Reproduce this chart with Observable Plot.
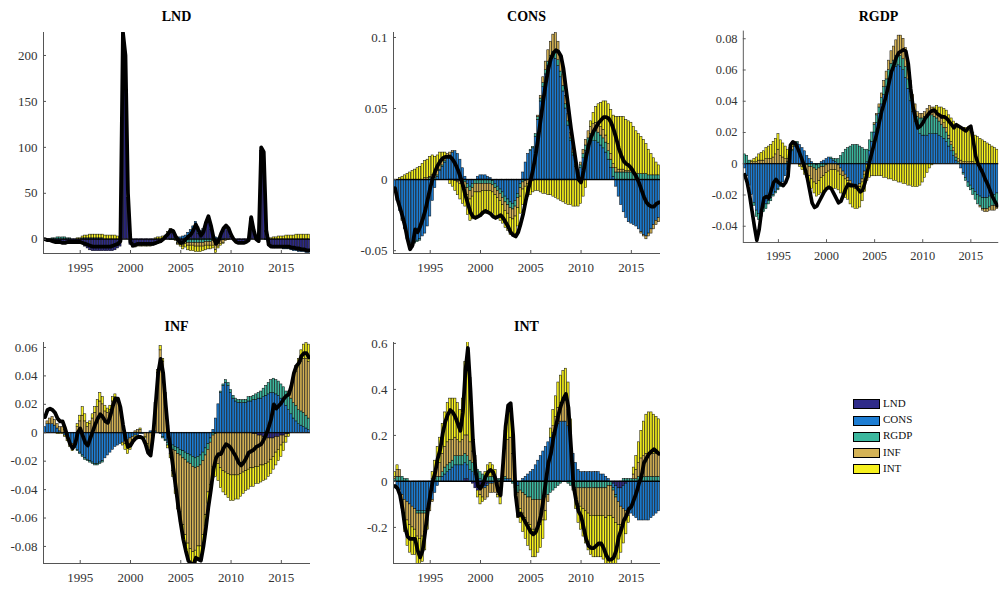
<!DOCTYPE html>
<html><head><meta charset="utf-8">
<script src="https://cdn.jsdelivr.net/npm/d3@7"></script>
<script src="https://cdn.jsdelivr.net/npm/@observablehq/plot@0.6"></script>
<style>
html,body{margin:0;padding:0;background:#fff;overflow:hidden;}
#root{position:relative;width:1004px;height:589px;overflow:hidden;font-family:"Liberation Serif","Times New Roman",serif;background:#fff;}
.ttl{position:absolute;font-weight:bold;font-size:14px;line-height:16px;transform:translateX(-50%);color:#000;white-space:nowrap;}
.pl{position:absolute;}
.pl svg text{font-family:"Liberation Serif","Times New Roman",serif;}
.leg{position:absolute;left:853px;font-size:11px;line-height:12px;color:#111;}
.leg span.sw{display:inline-block;width:25px;height:8px;border:1px solid #000;vertical-align:middle;margin-right:3px;}
</style></head><body><div id="root"></div>
<script>
// ---- data ----
const seriesNames = ["LND","CONS","RGDP","INF","INT"];
const firstQuarter = 1991.5;   // 1991Q3 (plotted as year + (q-1)/4)
const nQuarters = 106;         // through 2017Q4
const xTicks = [1995, 2000, 2005, 2010, 2015];

// LND panel (units of 1)
const lndTotal = [0,-1,
-1,-2,-3,-3, -3,-4,-4,-3, -3,-3,-3,-3, -3,-4,-5,-6, -7,-8,-8,-8, -8,-8,-8,-8, -8,-7,-6,-5,
-2,225,200,50, -3,-7,-6,-5, -5,-5,-5,-5, -5,-5,-4,-3, -2,0,3,6, 10,9,3,-1, -4,-3,0,3,
5,10,16,10, 4,8,18,25, 15,2,-5,-2, 6,12,15,12, 5,0,-3,-4, -4,-4,-3,-1, 24,10,0,-2,
100,95,10,-6, -8,-8,-8,-8, -8,-8,-8,-8, -9,-9,-10,-10, -11,-11,-12,-12];
const lndLND = [0,-1,
-1,-2,-2,-3, -3,-3,-3,-3, -3,-3,-3,-3, -4,-5,-8,-10, -12,-13,-13,-13, -13,-13,-13,-13, -13,-13,-12,-10,
-8,220,195,45, -6,-8,-8,-7, -7,-7,-7,-7, -7,-7,-6,-5, -4,-2,0,4, 8,7,2,-2, -3,-3,0,2,
4,8,12,6, 2,5,12,18, 10,0,-4,-2, 3,8,11,9, 3,0,-3,-3, -3,-3,-2,0, 22,8,0,-2,
96,90,8,-6, -8,-9,-9,-9, -9,-10,-10,-10, -11,-12,-12,-13, -13,-13,-14,-14];
const lndCONS = [0,0,
0,-1,-1,-1, -1,-1,-1,-1, -1,0,0,0, 0,1,1,1, 1,1,1,1, 1,1,0,0, 0,0,0,0,
0,0,0,0, 0,0,0,0, 0,0,0,0, 0,0,0,0, 0,0,1,1, 1,1,1,2, 2,3,4,5,
6,6,7,7, 7,6,6,5, 4,3,2,1, 1,1,1,0, 0,0,0,0, 0,0,0,0, 0,0,0,0,
0,0,-1,-1, -1,-1,-1,-1, -1,-1,-1,-1, -1,-1,-1,-1, -1,-1,-1,-1];
const lndRGDP = [0,0,
0,1,1,2, 2,2,2,1, 1,0,0,0, 0,0,0,0, 0,0,0,0, 0,0,0,0, 0,0,0,0,
0,0,0,0, 0,0,0,0, 0,0,0,0, 0,0,0,0, 0,0,0,0, -1,-1,-1,-2, -2,-3,-3,-4,
-4,-4,-4,-4, -4,-4,-3,-3, -3,-2,-2,-1, -1,-1,0,0, 0,0,0,0, 0,0,0,0, 0,0,0,0,
0,0,0,0, 0,0,0,0, 0,0,0,0, 0,0,0,0, 0,0,0,0];
const lndINF = [0,0,
0,0,0,0, 0,0,0,0, 0,0,0,0, 0,0,0,0, 0,0,0,0, 0,0,0,0, 0,0,0,0,
0,0,0,0, 0,0,0,0, 0,0,0,0, 0,0,0,0, 0,0,0,0, 0,0,-1,-1, -1,-2,-2,-3,
-3,-3,-4,-4, -4,-4,-4,-4, -4,-5,-6,-5, -4,-3,-2,-1, 0,0,0,0, 0,0,0,0, 0,0,0,0,
0,0,0,0, 0,0,0,0, 0,0,0,0, 0,0,0,0, 0,0,0,0];
const lndINT = [0,0,
0,0,0,0, 0,0,0,0, 0,0,0,1, 1,2,3,3, 4,4,4,4, 4,4,4,4, 4,4,4,3,
3,0,0,0, 0,-1,-1,-1, -1,-1,-1,-1, -1,0,1,2, 2,3,3,3, 2,1,0,-1, -2,-3,-4,-5,
-6,-6,-6,-6, -6,-5,-5,-4, -4,-3,-3,-2, -2,-1,0,0, 0,0,0,0, 0,0,0,0, 0,0,0,0,
0,0,1,1, 1,2,2,3, 3,3,4,4, 4,4,5,5, 5,5,5,5];
const lndYDomain = [-15.5, 225];
const lndYTicks = [0, 50, 100, 150, 200];

// CONS panel (units of 0.001)
const consTotal = [-6,-14,
-20,-26,-33,-42, -49,-46,-35,-37, -33,-28,-22,-14, -6,1,6,10, 13,15,16,16, 16,14,11,7, 2,-4,-11,-17,
-23,-26,-27,-26, -25,-23,-22,-23, -24,-26,-27,-26, -25,-27,-30,-33, -37,-39,-40,-37, -31,-24,-15,-7, 0,8,18,30,
43,56,68,78, 85,89,91,90, 87,78,64,50, 36,24,12,0, -2,6,16,24, 30,34,37,40, 42,44,44,43,
40,35,29,22, 17,13,11,10, 8,5,2,-2, -7,-12,-16,-18, -19,-19,-17,-16];
const consCONS = [-8,-15,
-22,-28,-34,-40, -45,-46,-44,-43, -42,-40,-38,-33, -26,-15,-6,2, 6,9,12,15, 17,19,20,18, 14,8,2,-3,
-5,-3,0,2, 3,3,3,2, 1,-1,-3,-5, -7,-9,-12,-14, -16,-17,-15,-10, -3,5,12,18, 20,22,30,42,
55,65,74,80, 84,86,85,80, 72,62,50,38, 27,17,9,3, 8,15,20,24, 26,27,27,26, 24,22,19,14,
8,2,-5,-12, -18,-23,-27,-30, -31,-32,-33,-35, -37,-39,-40,-38, -35,-32,-29,-27];
const consRGDP = [0,0,
0,0,0,-1, -1,-1,-1,-1, -1,0,0,0, 1,1,1,1, 1,1,1,0, 0,0,-1,-1, -1,-2,-2,-3,
-3,-3,-3,-3, -3,-3,-3,-3, -3,-3,-3,-3, -3,-4,-4,-4, -4,-4,-4,-3, -3,-2,-1,0, 1,1,2,2,
2,3,3,3, 3,4,4,4, 4,4,3,3, 2,2,1,1, 2,3,4,5, 6,6,7,7, 7,7,7,6,
6,6,5,5, 5,5,5,5, 5,4,4,4, 4,4,4,3, 3,3,3,3];
const consINF = [0,0,
0,-1,-1,-1, -1,-1,0,0, 0,0,1,1, 1,2,2,3, 3,3,3,3, 2,1,0,-1, -2,-3,-4,-5,
-6,-6,-6,-6, -6,-5,-5,-5, -5,-5,-5,-5, -5,-5,-6,-6, -7,-7,-7,-7, -6,-5,-4,-3, -2,-1,0,1,
2,4,6,8, 10,12,14,13, 10,8,6,5, 4,3,2,1, 2,3,4,5, 5,6,6,6, 6,6,5,5,
4,3,3,2, 2,2,1,1, 1,1,0,0, -1,-1,-2,-2, -3,-3,-3,-3];
const consINT = [0,0,
1,2,3,4, 5,6,7,8, 9,11,12,13, 14,14,13,11, 9,6,3,0, -3,-5,-7,-9, -11,-12,-13,-14,
-15,-16,-17,-17, -17,-17,-16,-16, -16,-15,-15,-14, -14,-13,-12,-12, -12,-12,-13,-13, -12,-11,-10,-9, -9,-8,-8,-8,
-9,-10,-10,-11, -11,-12,-13,-14, -15,-16,-17,-18, -18,-19,-19,-19, -17,-12,-6,0, 4,8,11,14, 17,20,24,28,
31,34,36,37, 37,37,36,35, 34,32,30,28, 26,24,21,18, 15,12,9,7];
const consYDomain = [-0.052, 0.1035];
const consYTicks = [-0.05, 0, 0.05, 0.1];

// RGDP panel (units of 0.001)
const rgdpTotal = [-7,-12,
-20,-30,-40,-49, -42,-30,-22,-21, -22,-17,-12,-10, -12,-13,-14,-12, -8,12,14,13, 10,6,2,-3, -9,-17,-25,-28,
-27,-24,-21,-18, -16,-15,-16,-19, -22,-25,-24,-20, -16,-13,-14,-14, -14,-16,-18,-17, -12,-5,2,8, 14,20,27,34,
39,45,52,59, 63,68,71,72, 73,72,64,48, 36,29,23,24, 26,29,31,33, 34,34,32,31, 30,30,29,27,
25,23,25,24, 23,22,21,23, 24,15,5,0, -3,-6,-10,-13, -17,-21,-24,-27];
const rgdpCONS = [-3,-8,
-14,-20,-25,-30, -32,-30,-28,-26, -24,-22,-20,-18, -16,-14,-12,-8, -4,3,8,11, 13,12,10,8, 5,3,1,0,
-1,0,1,2, 3,4,3,2, 1,-1,-3,-5, -7,-9,-11,-13, -14,-14,-13,-10, -5,1,8,14, 20,26,32,38,
44,49,54,58, 60,62,63,62, 60,55,48,40, 33,27,22,19, 18,18,18,19, 19,19,19,18, 17,16,14,11,
8,5,2,0, -3,-6,-9,-12, -14,-16,-18,-20, -21,-22,-22,-22, -21,-20,-20,-19];
const rgdpRGDP = [6,5,
2,0,-2,-4, -4,-4,-3,-3, -2,-2,-1,-1, -1,-1,0,0, 1,1,1,1, 1,0,0,-1, -1,-2,-2,-3,
-3,-3,-2,-2, -1,0,1,1, 2,3,5,7, 9,10,11,12, 12,12,11,10, 9,8,7,6, 5,5,4,4,
5,5,6,6, 6,7,7,7, 7,7,6,6, 6,7,8,10, 11,12,13,13, 12,11,10,9, 8,7,6,5,
4,3,2,1, 0,-1,-2,-3, -3,-4,-5,-6, -6,-7,-7,-7, -7,-7,-7,-7];
const rgdpINF = [0,0,
0,1,1,1, 2,2,2,3, 3,3,4,6, 9,5,4,3, 2,2,2,1, 0,-1,-2,-3, -4,-6,-8,-9,
-9,-8,-7,-6, -5,-5,-4,-4, -4,-4,-4,-3, -3,-2,-2,-2, -2,-2,-2,-2, -2,-1,0,0, 1,1,2,3,
4,5,6,8, 9,10,12,13, 13,12,10,7, 5,4,3,3, 3,3,4,5, 5,5,5,4, 4,3,3,2,
2,2,2,2, 2,1,1,1, 1,1,0,0, -1,-1,-2,-2, -2,-3,-3,-3];
const rgdpINT = [0,0,
0,1,2,3, 4,5,6,7, 8,9,10,10, 10,10,9,8, 6,4,2,1, 0,-1,-2,-3, -4,-5,-6,-7,
-8,-9,-10,-10, -10,-11,-11,-12, -12,-12,-12,-12, -12,-12,-13,-13, -13,-13,-13,-12, -11,-10,-9,-8, -8,-8,-8,-8,
-9,-9,-10,-10, -11,-11,-12,-12, -13,-13,-14,-14, -15,-15,-15,-14, -12,-9,-6,-3, -1,1,3,5, 7,9,11,13,
15,17,19,20, 21,22,22,21, 20,19,18,17, 16,15,14,13, 12,11,10,9];
const rgdpYDomain = [-0.0504, 0.0849];
const rgdpYTicks = [-0.04, -0.02, 0, 0.02, 0.04, 0.06, 0.08];

// INF panel (units of 0.001)
const infTotal = [11,16,
17,16,14,10, 8,8,3,-3, -8,-11,-8,0, 3,-2,-7,-9, -4,1,6,10, 13,11,8,7, 12,19,24,24,
18,6,-4,-10, -9,-6,-4,-3, -3,-4,-8,-14, -16,-2,20,42, 52,42,20,0, -12,-25,-38,-52, -64,-75,-83,-90,
-92,-93,-88,-89, -90,-80,-67,-52, -40,-26,-18,-15, -15,-11,-8,-9, -11,-14,-17,-21, -23,-21,-18,-14, -13,-12,-10,-9,
-8,-5,-1,4, 10,20,17,19, 21,24,26,27, 33,42,47,49, 54,56,56,53];
const infLND = [0,0,
0,0,0,0, 0,0,0,0, 0,0,0,0, 0,0,0,0, 0,0,0,0, 0,0,0,0, 0,0,0,0,
0,0,0,0, 0,0,0,0, 0,0,0,0, 0,0,0,0, 0,0,0,0, 0,0,0,0, 0,0,0,0,
0,0,0,0, 0,0,0,0, 0,0,0,0, 0,0,0,0, 0,0,0,0, 0,0,0,0, 0,-1,-1,-2,
-2,-3,-3,-4, -4,-4,-3,-3, -2,-2,-1,-1, 0,0,0,0, 0,0,0,0];
const infCONS = [4,6,
6,6,5,3, 1,0,-2,-4, -6,-8,-10,-12, -14,-16,-18,-19, -20,-21,-22,-22, -21,-20,-18,-16, -14,-12,-10,-9,
-8,-7,-6,-5, -4,-3,-2,-2, -1,-1,0,0, 1,1,1,0, -1,-3,-5,-7, -8,-9,-10,-11, -12,-13,-14,-15,
-16,-17,-18,-17, -16,-14,-11,-8, -4,2,10,20, 28,33,35,33, 28,24,22,21, 21,21,21,22, 22,23,23,24,
24,25,26,27, 28,28,27,26, 24,22,19,16, 13,10,8,6, 5,4,3,2];
const infRGDP = [0,0,
0,0,0,0, 0,0,0,0, 0,0,-1,-1, -1,-1,-1,-1, -1,-1,-1,-1, -1,-1,0,0, 0,0,0,0,
0,0,0,0, 0,0,0,0, 0,0,0,0, 0,0,0,0, 0,-1,-1,-2, -2,-3,-3,-4, -4,-5,-5,-6,
-6,-7,-7,-7, -7,-6,-5,-4, -3,-2,-1,0, 1,1,2,2, 2,2,2,2, 2,2,2,3, 3,3,4,4,
5,6,7,8, 9,10,10,10, 10,10,10,11, 11,11,11,10, 10,10,9,8];
const infINF = [0,2,
4,5,4,3, 3,4,2,0, -2,-3,0,4, 8,12,8,4, 6,10,14,18, 22,20,15,14, 16,22,25,22,
18,8,-2,-5, -4,-2,1,2, 2,0,-3,-8, -12,-2,20,42, 58,50,28,5, -5,-15,-25,-33, -40,-47,-53,-57,
-60,-60,-58,-56, -57,-52,-42,-30, -30,-22,-20,-22, -25,-27,-28,-29, -30,-30,-30,-30, -29,-28,-27,-26, -25,-24,-23,-22,
-21,-20,-19,-17, -15,-13,-11,-9, -7,-5,-2,2, 8,16,24,30, 35,38,40,40];
const infINT = [0,0,
0,0,0,-1, -1,-1,-1,-2, -2,-2,0,2, 4,6,5,3, 2,3,4,5, 6,5,4,3, 3,3,2,1,
0,-2,-4,-5, -4,-3,-1,0, 1,0,-1,-3, -4,-3,0,2, 3,2,0,-2, -3,-4,-5,-6, -7,-8,-8,-9,
-9,-9,-9,-9, -9,-9,-8,-8, -7,-8,-10,-12, -14,-15,-16,-17, -18,-18,-17,-17, -16,-15,-14,-14, -13,-13,-12,-12,
-12,-11,-11,-10, -10,-9,-9,-8, -8,-6,-4,-2, 0,2,4,6, 8,10,11,12];
const infYDomain = [-0.092, 0.0635];
const infYTicks = [-0.08, -0.06, -0.04, -0.02, 0, 0.02, 0.04, 0.06];

// INT panel (units of 0.01)
const intTotal = [-2,-3,
-6,-12,-20,-24, -25,-25,-25,-30, -33,-30,-22,-13, -6,0,4,10, 14,21,26,29, 31,30,28,25, 22,30,48,58,
40,18,5,-2, -3,-1,2,4, 5,4,1,-4, -6,8,24,33, 34,20,-6,-15, -14,-16,-18,-20, -22,-23,-22,-19,
-15,-8,0,8, 12,19,24,29, 33,36,38,32, 15,-2,-8,-13, -15,-20,-25,-28, -29,-29,-28,-27, -27,-29,-32,-34,
-34,-33,-30,-24, -21,-17,-15,-12, -11,-8,-5,-1, 2,8,10,12, 13,14,13,12];
const intLND = [0,0,
0,0,0,0, 0,0,0,0, 0,0,0,0, 0,0,0,0, 0,0,0,0, 0,0,0,0, 0,0,1,1,
0,-1,-3,-4, -4,-3,-2,-1, 0,0,0,0, 0,0,0,0, 0,0,0,0, 0,0,0,0, 0,0,0,0,
0,0,0,0, 0,0,0,0, 0,0,0,0, 0,0,0,0, 0,0,0,0, 0,0,0,0, 0,0,0,0,
0,-1,-2,-3, -3,-2,-1,0, 0,0,0,0, 0,0,0,0, 0,0,0,0];
const intCONS = [0,-2,
-4,-6,-8,-9, -10,-11,-12,-13, -13,-13,-13,-12, -10,-8,-5,-2, 0,2,3,4, 5,6,7,7, 7,7,7,6,
5,4,3,2, 1,0,-1,-1, -1,-1,0,0, 0,0,1,1, 1,0,-1,-2, 0,1,2,3, 4,5,7,9,
11,13,15,17, 19,21,23,25, 26,26,26,24, 18,12,8,5, 4,4,4,4, 4,4,4,4, 3,3,2,1,
0,-2,-4,-6, -8,-10,-12,-13, -14,-15,-16,-17, -17,-17,-17,-17, -16,-15,-14,-13];
const intRGDP = [1,2,
2,2,1,1, 0,0,0,-1, -1,-1,-1,0, 0,1,1,2, 2,2,3,3, 3,3,4,4, 4,4,4,4,
4,4,4,3, 3,3,2,2, 2,2,2,1, 1,1,1,0, 0,-1,-2,-3, -4,-5,-6,-7, -7,-8,-8,-8,
-8,-8,-7,-6, -5,-4,-3,-2, -1,0,0,-1, -2,-2,-3,-3, -3,-3,-3,-3, -3,-3,-3,-3, -3,-3,-3,-2,
-2,-1,-1,0, 0,1,1,1, 1,1,1,2, 2,2,2,2, 2,2,2,2];
const intINF = [1,3,
3,-2,-6,-8, -9,-9,-9,-10, -11,-10,-8,-5, -3,-1,2,4, 6,8,9,10, 10,9,8,7, 6,7,8,9,
8,5,2,0, -2,-4,-5,-5, -4,-4,-5,-6, -7,2,12,17, 18,12,0,-6, -8,-9,-10,-11, -12,-13,-13,-12,
-11,-9,-6,-3, 0,3,5,7, 8,9,9,7, 3,-2,-5,-7, -8,-9,-10,-11, -12,-12,-12,-12, -12,-12,-13,-13,
-13,-12,-11,-10, -8,-6,-4,-2, 0,2,4,6, 8,9,10,10, 10,10,10,10];
const intINT = [2,2,
0,-4,-8,-11, -12,-12,-11,-12, -12,-11,-8,-4, 0,3,6,9, 11,13,15,17, 18,18,17,16, 14,18,32,46,
28,10,2,-3, -4,-2,2,5, 6,5,3,-1, -3,2,8,12, 12,8,0,-5, -6,-8,-9,-10, -11,-12,-12,-11,
-10,-8,-4,0, 4,7,9,11, 12,13,14,12, 6,0,-4,-8, -10,-12,-14,-16, -17,-18,-18,-18, -18,-19,-20,-21,
-21,-20,-18,-15, -12,-9,-6,-3, 0,3,6,9, 12,15,17,18, 18,17,16,15];
const intYDomain = [-0.357, 0.604];
const intYTicks = [-0.2, 0, 0.2, 0.4, 0.6];

// ---- build ----
const colors = ["#2f2b8a", "#1d7dd3", "#3bb79e", "#d5b356", "#f6f01e"];
const quarters = d3.range(nQuarters).map(i => firstQuarter + i / 4);
const xDomain = [1991.35, 2017.9];

const panels = [
  {title: "LND", unit: 1, total: lndTotal, parts: [lndLND, lndCONS, lndRGDP, lndINF, lndINT], yDomain: lndYDomain, yTicks: lndYTicks, ax: 43, ay: 32},
  {title: "CONS", unit: 0.001, total: consTotal, parts: [null, consCONS, consRGDP, consINF, consINT], yDomain: consYDomain, yTicks: consYTicks, ax: 393, ay: 32},
  {title: "RGDP", unit: 0.001, total: rgdpTotal, parts: [null, rgdpCONS, rgdpRGDP, rgdpINF, rgdpINT], yDomain: rgdpYDomain, yTicks: rgdpYTicks, ax: 745, ay: 32},
  {title: "INF", unit: 0.001, total: infTotal, parts: [infLND, infCONS, infRGDP, infINF, infINT], yDomain: infYDomain, yTicks: infYTicks, ax: 43, ay: 342},
  {title: "INT", unit: 0.01, total: intTotal, parts: [intLND, intCONS, intRGDP, intINF, intINT], yDomain: intYDomain, yTicks: intYTicks, ax: 393, ay: 342}
];

const problems = [];
const fmt = d => String(+(+d).toFixed(4));
const root = document.getElementById("root");
const W = 267, H = 221, ML = 50, MT = 32, MR = 6, MB = 30;

for (const p of panels) {
  if (p.total.length !== nQuarters) problems.push(p.title + " total " + p.total.length);
  const rows = [];
  for (let i = 0; i < nQuarters; i++) {
    p.parts.forEach((arr, k) => {
      if (!arr) return;
      if (i === 0 && arr.length !== nQuarters) problems.push(p.title + "/" + seriesNames[k] + " " + arr.length);
      rows.push({t: quarters[i], v: (arr[i] ?? 0) * p.unit, s: seriesNames[k]});
    });
  }
  const line = quarters.map((t, i) => ({t, v: (p.total[i] ?? 0) * p.unit}));
  const svg = Plot.plot({
    width: ML + W + MR, height: MT + H + MB,
    marginLeft: ML, marginRight: MR, marginTop: MT, marginBottom: MB,
    x: {domain: xDomain},
    y: {domain: p.yDomain},
    color: {domain: seriesNames, range: colors},
    style: {fontFamily: "'Liberation Serif','Times New Roman',serif", fontSize: "13px", color: "#333", background: "transparent", overflow: "visible"},
    marks: [
      Plot.rectY(rows, Plot.stackY({x1: d => d.t - 0.11, x2: d => d.t + 0.11, y: "v", z: "s", fill: "s",
        stroke: "#000", strokeWidth: 0.55, strokeOpacity: 0.9, clip: true})),
      Plot.ruleY([0], {stroke: "#000", strokeWidth: 1.2}),
      Plot.lineY(line, {x: "t", y: "v", stroke: "#000", strokeWidth: 3.8, strokeLinejoin: "round", clip: true}),
      Plot.axisY({ticks: p.yTicks, tickSize: -3, tickPadding: 9, tickFormat: fmt, label: null, stroke: "#555"}),
      Plot.axisX({ticks: xTicks, tickSize: -3, tickPadding: 12, tickFormat: d => String(d), label: null, stroke: "#555"}),
      Plot.ruleX([xDomain[0]], {stroke: "#555", strokeWidth: 1}),
      Plot.ruleY([p.yDomain[0]], {stroke: "#555", strokeWidth: 1})
    ]
  });
  const wrap = document.createElement("div");
  wrap.className = "pl";
  wrap.style.left = (p.ax - ML) + "px";
  wrap.style.top = (p.ay - MT) + "px";
  wrap.appendChild(svg);
  root.appendChild(wrap);
  const t = document.createElement("div");
  t.className = "ttl";
  t.textContent = p.title;
  t.style.left = (p.ax + W / 2) + "px";
  t.style.top = (p.ay - 23) + "px";
  root.appendChild(t);
}

// legend
seriesNames.forEach((name, k) => {
  const row = document.createElement("div");
  row.className = "leg";
  row.style.top = (397 + k * 16.2) + "px";
  row.innerHTML = `<span class="sw" style="background:${colors[k]}"></span>${name}`;
  root.appendChild(row);
});

if (problems.length) setTimeout(() => { throw new Error("length problems: " + problems.join(", ")); }, 0);
</script></body></html>
